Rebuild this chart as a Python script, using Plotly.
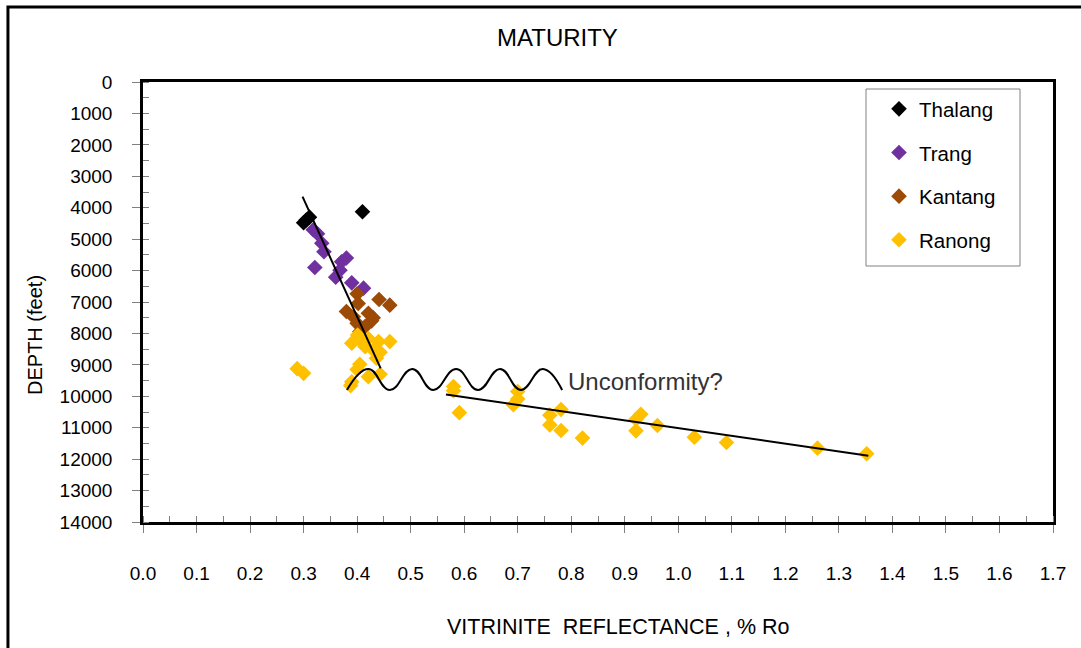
import plotly.graph_objects as go

# Vitrinite reflectance (% Ro) against depth (feet) for each well
thalang_ro = [0.300, 0.305, 0.311, 0.410]
thalang_depth = [4480, 4390, 4300, 4130]

trang_ro = [0.318, 0.326, 0.334, 0.338, 0.371, 0.380, 0.321, 0.368, 0.360, 0.390, 0.412]
trang_depth = [4700, 4830, 5130, 5400, 5720, 5600, 5900, 5990, 6210, 6390, 6560]

kantang_ro = [0.400, 0.441, 0.461, 0.380, 0.402, 0.393, 0.421, 0.427, 0.400, 0.415, 0.405, 0.430]
kantang_depth = [6740, 6920, 7100, 7300, 7050, 7470, 7360, 7600, 7680, 7780, 7950, 7500]

ranong_ro = [0.401, 0.390, 0.405, 0.421, 0.440, 0.461, 0.415, 0.430, 0.443, 0.436,
             0.405, 0.400, 0.443, 0.421, 0.390, 0.388, 0.288, 0.300,
             0.580, 0.580, 0.591, 0.700, 0.700, 0.692, 0.760, 0.781, 0.760, 0.781,
             0.821, 0.921, 0.930, 0.921, 0.961, 1.030, 1.090, 1.260, 1.352]
ranong_depth = [8050, 8310, 8210, 8160, 8260, 8260, 8420, 8530, 8600, 8790,
                8980, 9150, 9300, 9380, 9540, 9660, 9120, 9270,
                9690, 9820, 10520, 9850, 10090, 10270, 10600, 10420, 10910, 11090,
                11330, 10730, 10570, 11100, 10930, 11300, 11470, 11650, 11830]

# Hand-drawn maturity trends above and below the unconformity
upper_trend_ro = [0.298, 0.444]
upper_trend_depth = [3650, 9110]
lower_trend_ro = [0.566, 1.355]
lower_trend_depth = [9940, 11890]

# Wavy unconformity symbol: troughs and crests
wave_ro = [0.381, 0.421, 0.461, 0.503, 0.542, 0.585, 0.626, 0.667, 0.706, 0.747, 0.783]
wave_depth = [9800, 9130, 9800, 9130, 9800, 9130, 9800, 9130, 9800, 9130, 9800]

FONT = "Arial, Liberation Sans, sans-serif"

series = [
    ("Thalang", thalang_ro, thalang_depth, "#000000"),
    ("Trang", trang_ro, trang_depth, "#7030A0"),
    ("Kantang", kantang_ro, kantang_depth, "#9C4A06"),
    ("Ranong", ranong_ro, ranong_depth, "#FFC000"),
]

fig = go.Figure()

for name, xs, ys, col in series:
    fig.add_trace(go.Scatter(
        x=xs, y=ys, mode="markers", name=name, legendgroup=name,
        marker=dict(symbol="diamond", size=12, color=col, line=dict(width=0)),
    ))

line_style = dict(color="black", width=2)
fig.add_trace(go.Scatter(x=upper_trend_ro, y=upper_trend_depth, mode="lines",
                         line=line_style, showlegend=False, hoverinfo="skip"))
fig.add_trace(go.Scatter(x=lower_trend_ro, y=lower_trend_depth, mode="lines",
                         line=line_style, showlegend=False, hoverinfo="skip"))
fig.add_trace(go.Scatter(x=wave_ro, y=wave_depth, mode="lines",
                         line=dict(color="black", width=2, shape="spline", smoothing=1.3),
                         showlegend=False, hoverinfo="skip"))

fig.add_annotation(x=0.79, y=9540, xref="x", yref="y", text="Unconformity?",
                   showarrow=False, xanchor="left", yanchor="middle",
                   font=dict(family=FONT, size=24, color="#333333"))

# Chart title and axis titles
fig.add_annotation(x=0.455, y=1.10, xref="paper", yref="paper", text="MATURITY",
                   showarrow=False, xanchor="center", yanchor="middle",
                   font=dict(family=FONT, size=24, color="black"))
fig.add_annotation(x=0.522, y=-0.2386, xref="paper", yref="paper",
                   text="VITRINITE\u00a0\u00a0REFLECTANCE , % Ro",
                   showarrow=False, xanchor="center", yanchor="middle",
                   font=dict(family=FONT, size=21.5, color="black"))
fig.add_annotation(x=-0.1187, y=0.425, xref="paper", yref="paper",
                   text="DEPTH (feet)", textangle=-90,
                   showarrow=False, xanchor="center", yanchor="middle",
                   font=dict(family=FONT, size=20, color="black"))

# Outer chart frame
fig.add_shape(type="rect", xref="paper", yref="paper",
              x0=-0.1484, x1=1.2, y0=-0.4, y1=1.1705,
              line=dict(color="black", width=3), fillcolor="rgba(0,0,0,0)", layer="below")

# Legend frame (866..1020 px, 89..266 px)
fig.add_shape(type="rect", xref="paper", yref="paper",
              x0=(866 - 143) / 910, x1=(1020 - 143) / 910,
              y0=(522 - 266) / 440, y1=(522 - 89) / 440,
              line=dict(color="#808080", width=1), fillcolor="white", layer="below")

axis_common = dict(
    showline=True, linecolor="black", linewidth=2.5, mirror=True,
    showgrid=False, zeroline=False,
    ticks="outside", ticklen=8, tickwidth=1, tickcolor="#808080",
    tickfont=dict(family=FONT, size=19, color="black"),
)

fig.update_xaxes(range=[0, 1.7], dtick=0.1, tick0=0, tickformat=".1f",
                 ticklabelstandoff=24,
                 minor=dict(dtick=0.05, ticks="inside", ticklen=6, tickcolor="#808080"),
                 **axis_common)
fig.update_yaxes(range=[14000, 0], dtick=1000, tick0=0, tickformat="d",
                 ticklabelstandoff=16,
                 minor=dict(dtick=500, ticks="inside", ticklen=6, tickcolor="#808080"),
                 **axis_common)

fig.update_layout(
    width=1081, height=648,
    margin=dict(l=143, r=28, t=82, b=126),
    paper_bgcolor="white", plot_bgcolor="white",
    font=dict(family=FONT, color="black"),
    showlegend=True,
    legend=dict(x=(879 - 143) / 910, y=0.984, xanchor="left", yanchor="top",
                bgcolor="rgba(0,0,0,0)", borderwidth=0,
                font=dict(family=FONT, size=20.5, color="black"),
                tracegroupgap=14, traceorder="grouped"),
)

fig.write_html("out.html")
